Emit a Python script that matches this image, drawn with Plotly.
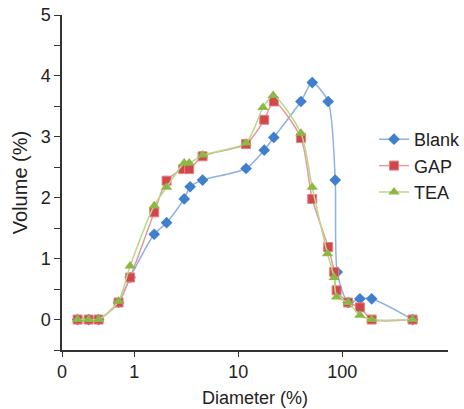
import plotly.graph_objects as go
import numpy as np

blank_x = [0.286, 0.365, 0.455, 0.708, 0.915, 1.56, 2.05, 3.03, 3.45, 4.55, 11.9, 17.8, 22.0, 40.1, 51.5, 73.3, 85.7, 89.5, 114, 148, 192, 475]
blank_y = [0, 0, 0, 0.28, 0.69, 1.40, 1.59, 1.98, 2.18, 2.29, 2.48, 2.78, 2.99, 3.58, 3.89, 3.58, 2.29, 0.78, 0.28, 0.34, 0.34, 0]

gap_x = [0.286, 0.365, 0.455, 0.708, 0.915, 1.56, 2.05, 2.96, 3.38, 4.55, 11.9, 17.8, 22.0, 40.1, 51.5, 73.3, 83.8, 88.3, 114, 148, 192, 475]
gap_y = [0, 0, 0, 0.28, 0.69, 1.76, 2.28, 2.47, 2.47, 2.68, 2.88, 3.28, 3.58, 2.98, 1.98, 1.19, 0.78, 0.48, 0.28, 0.20, 0, 0]

tea_x = [0.286, 0.365, 0.455, 0.708, 0.915, 1.56, 2.05, 3.03, 3.38, 4.55, 11.9, 17.3, 21.7, 40.1, 51.5, 72.2, 83.8, 88.3, 114, 148, 192, 475]
tea_y = [0, 0, 0, 0.30, 0.88, 1.87, 2.17, 2.57, 2.57, 2.70, 2.90, 3.48, 3.68, 3.06, 2.17, 1.08, 0.69, 0.37, 0.28, 0.07, 0, 0]

x_tickvals = [0.2025, 1, 10, 100]
x_ticktext = ["0", "1", "10", "100"]
y_tickvals = [-0.5, 0, 0.5, 1, 1.5, 2, 2.5, 3, 3.5, 4, 4.5, 5]
y_ticktext = ["", "0", "", "1", "", "2", "", "3", "", "4", "", "5"]

FONT = "Liberation Sans, Arial, sans-serif"

fig = go.Figure()
fig.add_trace(go.Scatter(x=blank_x, y=blank_y, name="Blank", mode="lines+markers",
                         line=dict(color="#8db3e2", width=1.5, shape="spline", smoothing=0.7),
                         marker=dict(symbol="diamond", size=9, color="#3f7fcc")))
fig.add_trace(go.Scatter(x=gap_x, y=gap_y, name="GAP", mode="lines+markers",
                         line=dict(color="#e59a9a", width=1.5, shape="spline", smoothing=0.7),
                         marker=dict(symbol="square", size=9, color="#d0484b",
                                     line=dict(color="#e58080", width=1))))
fig.add_trace(go.Scatter(x=tea_x, y=tea_y, name="TEA", mode="lines+markers",
                         line=dict(color="#b9d88a", width=1.5, shape="spline", smoothing=0.7),
                         marker=dict(symbol="triangle-up", size=10, color="#8cb848")))

fig.update_layout(
    width=464, height=409,
    margin=dict(l=62, r=16, t=15, b=59, autoexpand=False),
    paper_bgcolor="white", plot_bgcolor="white",
    font=dict(family=FONT, size=18, color="#222222"),
    showlegend=True,
    legend=dict(xref="container", yref="container", x=374 / 464, y=1 - 121 / 409,
                xanchor="left", yanchor="top",
                bgcolor="rgba(0,0,0,0)", font=dict(size=18), tracegroupgap=0,
                itemwidth=30),
    xaxis=dict(type="log", range=[np.log10(0.2025), np.log10(1040)],
               tickvals=x_tickvals, ticktext=x_ticktext,
               showgrid=False, zeroline=False, showline=True, linecolor="#333333", linewidth=1.5,
               ticks="outside", ticklen=5, tickcolor="#333333", automargin=False,
               title=dict(text="Diameter (%)", font=dict(size=18), standoff=10)),
    yaxis=dict(range=[-0.5, 5], tickvals=y_tickvals, ticktext=y_ticktext,
               showgrid=False, zeroline=False, showline=True, linecolor="#333333", linewidth=1.5,
               ticks="outside", ticklen=6, tickcolor="#333333", automargin=False,
               title=dict(text="Volume (%)", font=dict(size=20), standoff=8)),
)

fig.write_html("out.html")
